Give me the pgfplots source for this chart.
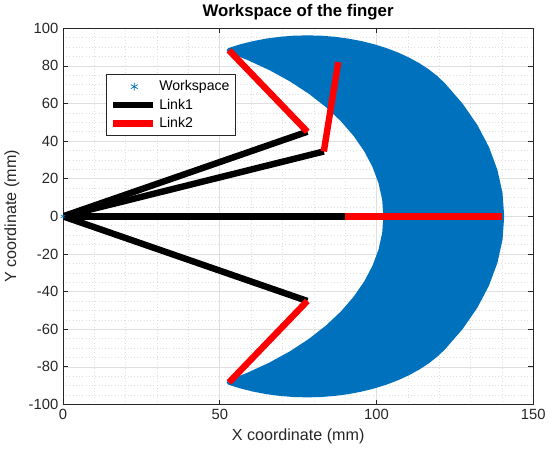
\documentclass[border=0pt]{standalone}
\usepackage{fontspec}
\setmainfont{Liberation Sans}
\usepackage{pgfplots}
\pgfplotsset{compat=1.18}
\definecolor{mblue}{RGB}{0,114,189}
\definecolor{axgray}{RGB}{38,38,38}
\pgfplotsset{
  linklegend/.style={legend image code/.code={\draw[##1] (0cm,0cm) -- (1.05cm,0cm);}},
  wslegend/.style={legend image code/.code={\draw[##1] plot[mark=asterisk] coordinates {(0.55cm,0cm)};}},
}
\begin{document}
\begin{tikzpicture}
\begin{axis}[
  scale only axis, width=350pt, height=280pt,
  xmin=0, xmax=150, ymin=-100, ymax=100,
  xtick={0,50,100,150}, ytick={-100,-80,...,100},
  minor x tick num=4, minor y tick num=3,
  grid=both,
  major grid style={gray!25, line width=0.4pt},
  minor grid style={gray!25, dotted, line width=0.4pt},
  axis line style={axgray, line width=0.5pt},
  tick style={axgray, line width=0.5pt},
  major tick length=3.5pt, minor tick length=0pt,
  tick label style={font=\fontsize{11}{13}\selectfont, text=axgray},
  /pgf/number format/assume math mode=true,
  xlabel={X coordinate (mm)}, ylabel={Y coordinate (mm)},
  label style={font=\fontsize{12}{14}\selectfont, text=axgray},
  title={\textbf{Workspace of the finger}},
  title style={font=\fontsize{12.5}{14}\selectfont, yshift=-3.5pt},
  legend style={at={(0.092,0.878)}, anchor=north west, draw=axgray, line width=0.5pt,
    font=\fontsize{10.5}{12}\selectfont, row sep=0.6pt, inner sep=2.5pt},
  legend cell align=left,
]
\addlegendimage{only marks, mark=asterisk, mark size=3pt, color=mblue, wslegend}
\addlegendentry{Workspace}
% workspace region (boundary of the reachable set)
\addplot[forget plot, fill=mblue, draw=mblue, line width=3.5pt, line join=round] coordinates {
(140,0) (139.47,12.20) (137.87,24.31) (135.23,36.23) (131.56,47.88) (126.88,59.17) (121.24,70.00)
(118.90,73.68) (116.24,77.14) (113.30,80.36) (110.08,83.30) (106.62,85.96) (102.94,88.30) (99.07,90.32)
(95.04,91.98) (90.88,93.30) (86.62,94.24) (82.30,94.81) (77.94,95.00) (73.58,94.81) (69.26,94.24)
(65.00,93.30) (60.84,91.98) (56.81,90.32) (52.94,88.30)
(59.06,84.34) (66.18,78.87) (72.80,72.80) (78.87,66.18) (84.34,59.06) (89.17,51.48) (93.31,43.51)
(96.75,35.21) (99.45,26.65) (101.40,17.88) (102.57,8.97) (102.96,0)
(102.57,-8.97) (101.40,-17.88) (99.45,-26.65) (96.75,-35.21) (93.31,-43.51) (89.17,-51.48) (84.34,-59.06)
(78.87,-66.18) (72.80,-72.80) (66.18,-78.87) (59.06,-84.34) (52.94,-88.30)
(56.81,-90.32) (60.84,-91.98) (65.00,-93.30) (69.26,-94.24) (73.58,-94.81) (77.94,-95.00) (82.30,-94.81)
(86.62,-94.24) (90.88,-93.30) (95.04,-91.98) (99.07,-90.32) (102.94,-88.30) (106.62,-85.96) (110.08,-83.30)
(113.30,-80.36) (116.24,-77.14) (118.90,-73.68) (121.24,-70.00)
(126.88,-59.17) (131.56,-47.88) (135.23,-36.23) (137.87,-24.31) (139.47,-12.20) (140,0)
} -- cycle;
\addplot[forget plot, only marks, mark=asterisk, mark size=2pt, color=mblue] coordinates {(0,0)};
% Link1
\addplot[black, line width=4.8pt, linklegend] coordinates {(0,0) (77.94,45)};
\addlegendentry{Link1}
\addplot[forget plot, black, line width=4.8pt] coordinates {(0,0) (83.2,34.5)};
\addplot[forget plot, black, line width=4.8pt] coordinates {(0,0) (90,0)};
\addplot[forget plot, black, line width=4.8pt] coordinates {(0,0) (77.94,-45)};
% Link2
\addplot[red, line width=4.8pt, linklegend] coordinates {(77.94,45) (52.94,88.30)};
\addlegendentry{Link2}
\addplot[forget plot, red, line width=4.8pt] coordinates {(83.2,34.5) (87.8,82)};
\addplot[forget plot, red, line width=4.8pt] coordinates {(90,0) (140,0)};
\addplot[forget plot, red, line width=4.8pt] coordinates {(77.94,-45) (52.94,-88.30)};
\end{axis}
\end{tikzpicture}
\end{document}
